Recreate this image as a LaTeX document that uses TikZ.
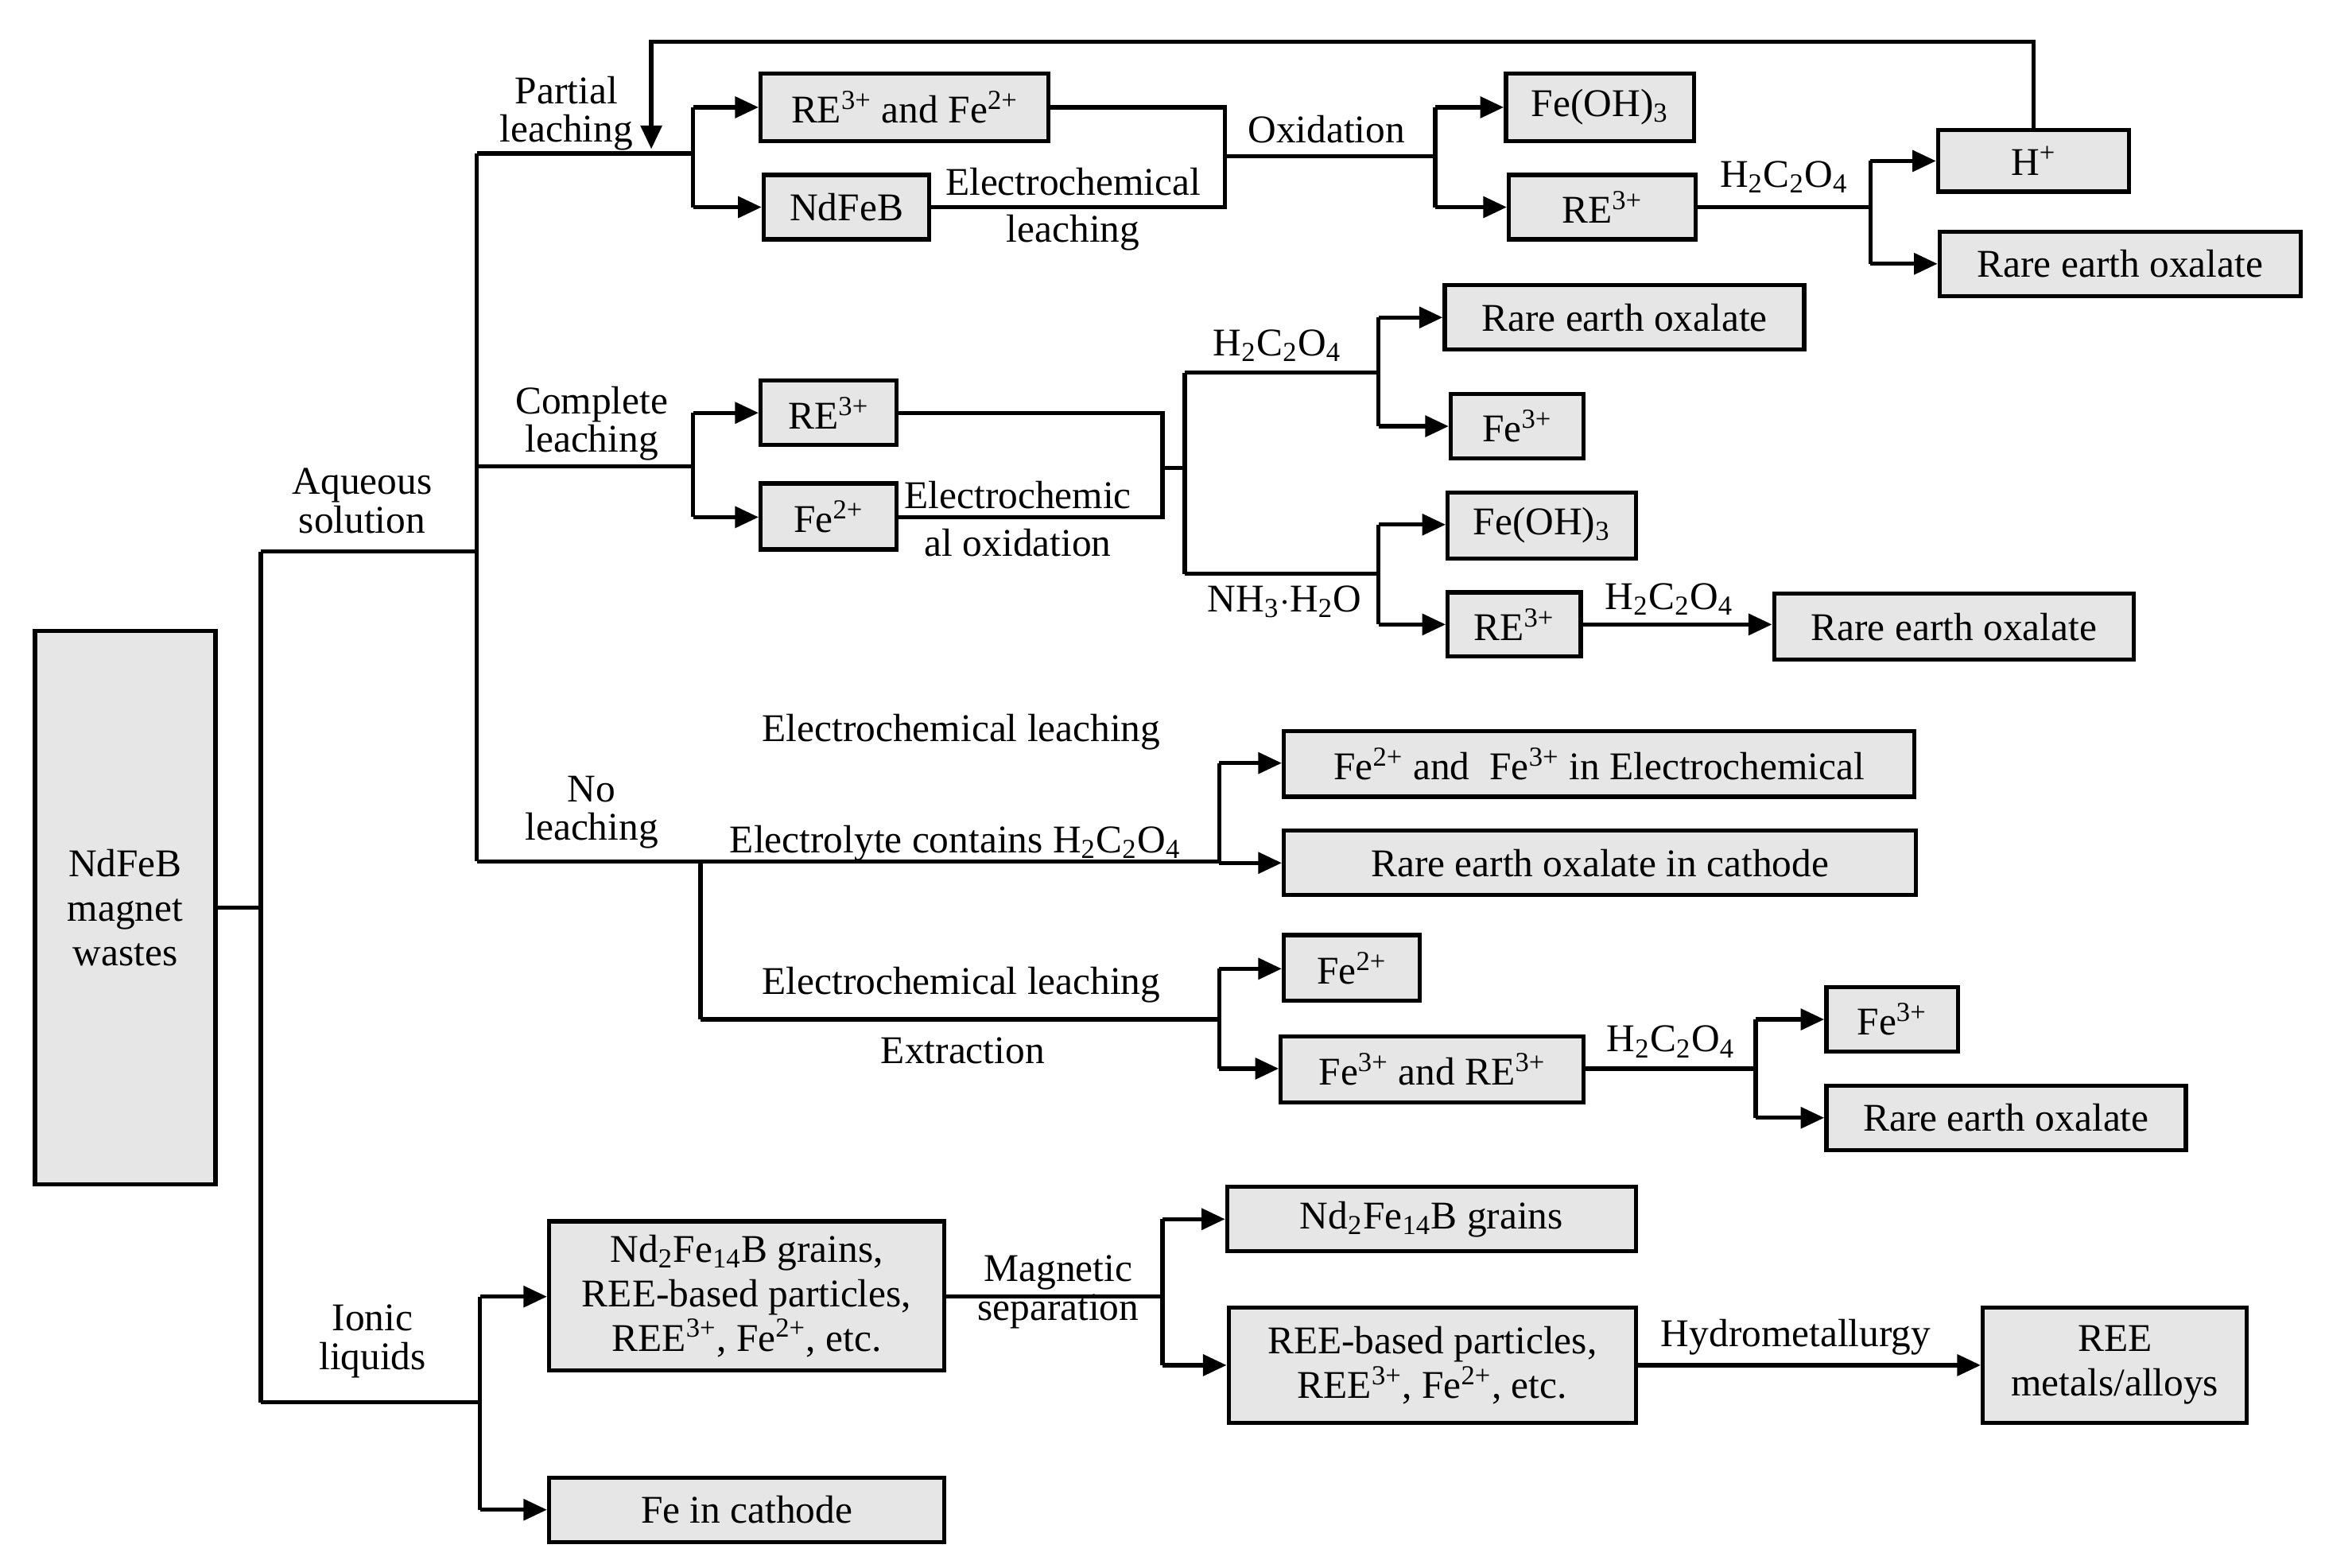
\documentclass[tikz,border=0pt]{standalone}
\usepackage{fontspec}
\setmainfont{Liberation Serif}
\usetikzlibrary{arrows.meta}
\definecolor{boxgray}{HTML}{E6E6E6}
\newcommand{\sps}[1]{\textsuperscript{#1}}
\newcommand{\sbs}[1]{\textsubscript{#1}}
\newcommand{\bx}[6]{\node[box,minimum width={(#4-#2)*0.02cm-1.6pt},minimum height={(#5-#3)*0.02cm-1.6pt}] (#1) at ({(#2+#4)/2},{(#3+#5)/2}) {#6};}
\begin{document}
\begin{tikzpicture}[x=0.02cm,y=-0.02cm,
  box/.style={draw,fill=boxgray,line width=1.6pt,inner sep=1pt,align=center,font=\fontsize{15}{17}\selectfont},
  lbl/.style={inner sep=1pt,align=center,font=\fontsize{15}{15}\selectfont},
  ln/.style={line width=1.6pt},
  arr/.style={line width=1.6pt,-{Triangle[length=9pt,width=8pt]}}]
\useasboundingbox (0,0) rectangle (1560,1052);
% boxes
\bx{mag}{22}{422}{146}{796}{NdFeB\\magnet\\wastes}
\bx{reFe}{509}{48}{705}{96}{RE\sps{3+} and Fe\sps{2+}}
\bx{nd}{511}{116}{625}{162}{NdFeB}
\bx{foh1}{1009}{48}{1138}{96}{Fe(OH)\sbs{3}}
\bx{re1}{1011}{116}{1139}{162}{RE\sps{3+}}
\bx{hp}{1299}{86}{1430}{130}{H\sps{+}}
\bx{ox1}{1300}{154}{1545}{200}{Rare earth oxalate}
\bx{ox2}{968}{190}{1212}{236}{Rare earth oxalate}
\bx{fe3a}{972}{263}{1064}{309}{Fe\sps{3+}}
\bx{re2}{509}{254}{603}{300}{RE\sps{3+}}
\bx{fe2a}{509}{323}{603}{370}{Fe\sps{2+}}
\bx{foh2}{970}{329}{1099}{376}{Fe(OH)\sbs{3}}
\bx{re3}{970}{396}{1062}{442}{RE\sps{3+}}
\bx{ox3}{1189}{397}{1433}{444}{Rare earth oxalate}
\bx{fefe}{860}{489}{1286}{536}{Fe\sps{2+} and~ Fe\sps{3+} in Electrochemical}
\bx{oxc}{860}{556}{1287}{602}{Rare earth oxalate in cathode}
\bx{fe2b}{860}{626}{954}{673}{Fe\sps{2+}}
\bx{fere}{858}{694}{1064}{741}{Fe\sps{3+} and RE\sps{3+}}
\bx{fe3b}{1224}{661}{1315}{707}{Fe\sps{3+}}
\bx{ox4}{1224}{727}{1468}{773}{Rare earth oxalate}
\bx{grmix}{367}{818}{635}{921}{Nd\sbs{2}Fe\sbs{14}B grains,\\REE-based particles,\\REE\sps{3+}, Fe\sps{2+}, etc.}
\bx{fec}{367}{990}{635}{1036}{Fe in cathode}
\bx{gr}{822}{795}{1099}{841}{Nd\sbs{2}Fe\sbs{14}B grains}
\bx{reep}{823}{876}{1099}{956}{REE-based particles,\\REE\sps{3+}, Fe\sps{2+}, etc.}
\bx{reem}{1329}{876}{1509}{956}{REE\\metals/alloys}
% coordinates
\coordinate (j0) at (175,609);
\coordinate (jA) at (175,370);
\coordinate (jI) at (175,941);
\coordinate (aq) at (320,370);
\coordinate (aqT) at (320,103);
\coordinate (aqB) at (320,578);
\coordinate (aqM) at (320,313);
\coordinate (p0) at (465,103);
\coordinate (p1) at (465,72);
\coordinate (p2) at (465,139);
\coordinate (e1) at (822,72);
\coordinate (e2) at (822,139);
\coordinate (e3) at (822,105);
\coordinate (o0) at (963,105);
\coordinate (o1) at (963,72);
\coordinate (o2) at (963,139);
\coordinate (h0) at (1255,139);
\coordinate (h1) at (1255,108);
\coordinate (h2) at (1255,177);
\coordinate (fb) at (437,28);
\coordinate (fbE) at (437,100);
\coordinate (c0) at (465,313);
\coordinate (c1) at (465,277);
\coordinate (c2) at (465,347);
\coordinate (k1) at (780,277);
\coordinate (k2) at (780,347);
\coordinate (k0) at (780,314);
\coordinate (m0) at (795,314);
\coordinate (m1) at (795,250);
\coordinate (m2) at (795,385);
\coordinate (q1) at (925,250);
\coordinate (q1a) at (925,213);
\coordinate (q1b) at (925,286);
\coordinate (q2) at (925,385);
\coordinate (q2a) at (925,352);
\coordinate (q2b) at (925,419);
\coordinate (n0) at (470,578);
\coordinate (n1) at (470,684);
\coordinate (r0) at (818,578);
\coordinate (r1) at (818,512);
\coordinate (s0) at (818,684);
\coordinate (s1) at (818,650);
\coordinate (s2) at (818,717);
\coordinate (t0) at (1178,717);
\coordinate (t1) at (1178,684);
\coordinate (t2) at (1178,750);
\coordinate (i0) at (322,941);
\coordinate (i1) at (322,870);
\coordinate (i2) at (322,1013);
\coordinate (g0) at (780,870);
\coordinate (g1) at (780,818);
\coordinate (g2) at (780,916);
% connectors
\draw[ln] (mag.east) -- (j0);
\draw[ln] (jA) -- (jI);
\draw[ln] (jA) -- (aq);
\draw[ln] (jI) -- (i0);
\draw[ln] (aqT) -- (aqB);
\draw[ln] (aqT) -- (p0);
\draw[ln] (aqM) -- (c0);
\draw[ln] (aqB) -- (n0);
% partial
\draw[ln] (p1) -- (p2);
\draw[arr] (p1) -- (reFe.west |- p1);
\draw[arr] (p2) -- (nd.west |- p2);
\draw[ln] (reFe.east |- e1) -- (e1) -- (e2) -- (nd.east |- e2);
\draw[ln] (e3) -- (o0);
\draw[ln] (o1) -- (o2);
\draw[arr] (o1) -- (foh1.west |- o1);
\draw[arr] (o2) -- (re1.west |- o2);
\draw[ln] (re1.east |- h0) -- (h0);
\draw[ln] (h1) -- (h2);
\draw[arr] (h1) -- (hp.west |- h1);
\draw[arr] (h2) -- (ox1.west |- h2);
\draw[arr] (hp.north) |- (fb) -- (fbE);
% complete
\draw[ln] (c1) -- (c2);
\draw[arr] (c1) -- (re2.west |- c1);
\draw[arr] (c2) -- (fe2a.west |- c2);
\draw[ln] (re2.east |- k1) -- (k1) -- (k2) -- (fe2a.east |- k2);
\draw[ln] (k0) -- (m0);
\draw[ln] (m1) -- (m2);
\draw[ln] (m1) -- (q1);
\draw[ln] (m2) -- (q2);
\draw[ln] (q1a) -- (q1b);
\draw[arr] (q1a) -- (ox2.west |- q1a);
\draw[arr] (q1b) -- (fe3a.west |- q1b);
\draw[ln] (q2a) -- (q2b);
\draw[arr] (q2a) -- (foh2.west |- q2a);
\draw[arr] (q2b) -- (re3.west |- q2b);
\draw[arr] (re3.east) -- (ox3.west |- re3.east);
% no leaching
\draw[ln] (n0) -- (n1);
\draw[ln] (n0) -- (r0);
\draw[ln] (r1) -- (r0 |- oxc.west);
\draw[arr] (r1) -- (fefe.west |- r1);
\draw[arr] (r0 |- oxc.west) -- (oxc.west);
\draw[ln] (n1) -- (s0);
\draw[ln] (s1) -- (s2);
\draw[arr] (s1) -- (fe2b.west |- s1);
\draw[arr] (s2) -- (fere.west |- s2);
\draw[ln] (fere.east |- t0) -- (t0);
\draw[ln] (t1) -- (t2);
\draw[arr] (t1) -- (fe3b.west |- t1);
\draw[arr] (t2) -- (ox4.west |- t2);
% ionic
\draw[ln] (i1) -- (i2);
\draw[arr] (i1) -- (grmix.west |- i1);
\draw[arr] (i2) -- (fec.west |- i2);
\draw[ln] (grmix.east |- g0) -- (g0);
\draw[ln] (g1) -- (g2);
\draw[arr] (g1) -- (gr.west |- g1);
\draw[arr] (g2) -- (reep.west |- g2);
\draw[arr] (reep.east) -- (reem.west);
% labels
\node[lbl] (lAq) at (243,336) {Aqueous\\solution};
\node[lbl] (lIo) at (250,900) {Ionic\\liquids};
\node[lbl,font=\fontsize{15}{14.5}\selectfont] (lPl) at (380,76) {Partial\\leaching};
\node[lbl,font=\fontsize{15}{14.5}\selectfont] (lCl) at (397,284) {Complete\\leaching};
\node[lbl,font=\fontsize{15}{14.5}\selectfont] (lNl) at (397,545) {No\\leaching};
\node[lbl] (lEl1) at (720,122) {Electrochemical};
\node[lbl] (lEl2) at (720,156) {leaching};
\node[lbl] (lOx) at (890,87) {Oxidation};
\node[lbl] (lH1) at (1197,119) {H\sbs{2}C\sbs{2}O\sbs{4}};
\node[lbl] (lEo1) at (683,332) {Electrochemic};
\node[lbl] (lEo2) at (683,364) {al oxidation};
\node[lbl] (lH2) at (857,232) {H\sbs{2}C\sbs{2}O\sbs{4}};
\node[lbl] (lNH) at (862,404) {NH\sbs{3}$\cdot$H\sbs{2}O};
\node[lbl] (lH3) at (1120,402) {H\sbs{2}C\sbs{2}O\sbs{4}};
\node[lbl] (lEc1) at (645,491) {Electrochemical leaching};
\node[lbl] (lElc) at (641,566) {Electrolyte contains H\sbs{2}C\sbs{2}O\sbs{4}};
\node[lbl] (lEc2) at (645,661) {Electrochemical leaching};
\node[lbl] (lEx) at (646,705) {Extraction};
\node[lbl] (lH4) at (1121,699) {H\sbs{2}C\sbs{2}O\sbs{4}};
\node[lbl] (lMs) at (710,867) {Magnetic\\separation};
\node[lbl] (lHy) at (1205,897) {Hydrometallurgy};
\end{tikzpicture}
\end{document}
